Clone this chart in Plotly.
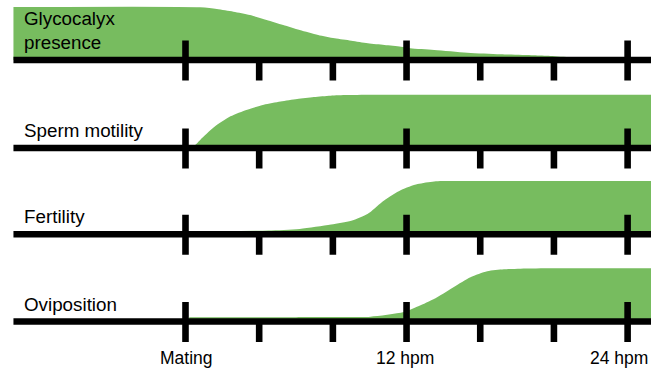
import plotly.graph_objects as go

# ---------------- data (hours post mating, relative level 0..1) ----------------
row_labels = ["Glycocalyx<br>presence", "Sperm motility", "Fertility", "Oviposition"]

glyco_t = [-9.34, 0.8, 1.7, 2.6, 3.5, 4.4, 5.3, 6.2, 7.2, 8.1, 9.0, 9.9, 10.8, 11.7,
           12.2, 13.5, 15.3, 17.1, 18.9, 19.8, 21.0, 25.4]
glyco_v = [0.98, 0.976, 0.944, 0.895, 0.833, 0.741, 0.648, 0.556, 0.463, 0.401, 0.357,
           0.309, 0.278, 0.247, 0.216, 0.185, 0.135, 0.106, 0.087, 0.074, 0.05, 0.03]

motility_t = [0.35, 0.6, 0.81, 1.54, 2.44, 3.35, 4.25, 5.16, 6.06, 6.97, 7.87, 8.78, 10.5, 25.4]
motility_v = [0.0, 0.08, 0.154, 0.383, 0.586, 0.71, 0.80, 0.86, 0.907, 0.944, 0.969, 0.98,
              0.985, 0.985]

fertility_t = [3.0, 4.5, 6.2, 7.9, 9.0, 9.9, 10.4, 10.8, 11.7, 12.6, 13.5, 14.5, 25.4]
fertility_v = [0.06, 0.07, 0.1, 0.18, 0.25, 0.38, 0.52, 0.63, 0.82, 0.93, 0.98, 0.987, 0.987]

ovip_t = [0.2, 3.0, 6.0, 9.0, 10.04, 11.85, 12.76, 13.66, 14.57, 15.47, 16.38, 17.28,
          18.19, 20.0, 25.4]
ovip_v = [0.08, 0.08, 0.08, 0.082, 0.09, 0.176, 0.30, 0.45, 0.64, 0.82, 0.93, 0.967, 0.978,
          0.985, 0.985]

series_t = [glyco_t, motility_t, fertility_t, ovip_t]
series_v = [glyco_v, motility_v, fertility_v, ovip_v]

major_ticks = [0, 12, 24]
minor_ticks = [4, 8, 16, 20]
tick_labels = ["Mating", "12 hpm", "24 hpm"]
axis_start = -9.34
axis_end = 26

# ---------------- layout constants (pixels) ----------------
W, H = 651, 368
px_per_unit = 54.0
baselines_px = [60, 148, 234.3, 321.5]
above_px, below_px = 60, 22
x_range = [-10.07, 25.27]
y_range = [-below_px / px_per_unit, above_px / px_per_unit]
GREEN = "#77BC5F"
FONT = "Liberation Sans, Arial, sans-serif"
tick_up = 19.5 / px_per_unit
tick_down = 20.5 / px_per_unit
LW = 6.6

fig = go.Figure()
layout = dict(width=W, height=H, margin=dict(l=0, r=0, t=0, b=0),
              paper_bgcolor="white", plot_bgcolor="white", showlegend=False)

for i in range(4):
    n = "" if i == 0 else str(i + 1)
    xa, ya = "x" + n, "y" + n
    B = baselines_px[i]
    dom = [(H - (B + below_px)) / H, min(1.0, (H - (B - above_px)) / H)]
    layout["xaxis" + n] = dict(domain=[0, 1], range=x_range, visible=False,
                               anchor=ya, fixedrange=True)
    layout["yaxis" + n] = dict(domain=dom, range=y_range, visible=False,
                               anchor=xa, fixedrange=True)
    # filled area
    fig.add_trace(go.Scatter(x=series_t[i], y=series_v[i], mode="lines",
                             line=dict(width=0, shape="spline", smoothing=0.7),
                             fill="tozeroy", fillcolor=GREEN, hoverinfo="skip",
                             xaxis=xa, yaxis=ya))
    # baseline
    fig.add_trace(go.Scatter(x=[axis_start, axis_end], y=[0, 0], mode="lines",
                             line=dict(color="black", width=LW), hoverinfo="skip",
                             xaxis=xa, yaxis=ya))
    # ticks
    tx, ty = [], []
    for t in major_ticks:
        tx += [t, t, None]
        ty += [tick_up, -tick_down, None]
    for t in minor_ticks:
        tx += [t, t, None]
        ty += [0, -tick_down, None]
    fig.add_trace(go.Scatter(x=tx, y=ty, mode="lines",
                             line=dict(color="black", width=LW), hoverinfo="skip",
                             xaxis=xa, yaxis=ya))

annotations = []
for i, lab in enumerate(row_labels):
    n = "" if i == 0 else str(i + 1)
    annotations.append(dict(text=lab, xref="paper", yref="y" + n, x=22 / W, y=0,
                            xanchor="left", yanchor="bottom", yshift=5, showarrow=False,
                            align="left", font=dict(family=FONT, size=18.8, color="black")))
shifts = [1, -2, -9]
for t, lab, s in zip(major_ticks, tick_labels, shifts):
    annotations.append(dict(text=lab, xref="x4", yref="y4", x=t, y=0, xanchor="center",
                            yanchor="middle", yshift=-36, xshift=s, showarrow=False,
                            font=dict(family=FONT, size=17.5, color="black")))
layout["annotations"] = annotations
fig.update_layout(**layout)
fig.write_html("out.html", config={"displayModeBar": False},
               post_script="document.body.style.margin='0';document.body.style.overflow='hidden';")
